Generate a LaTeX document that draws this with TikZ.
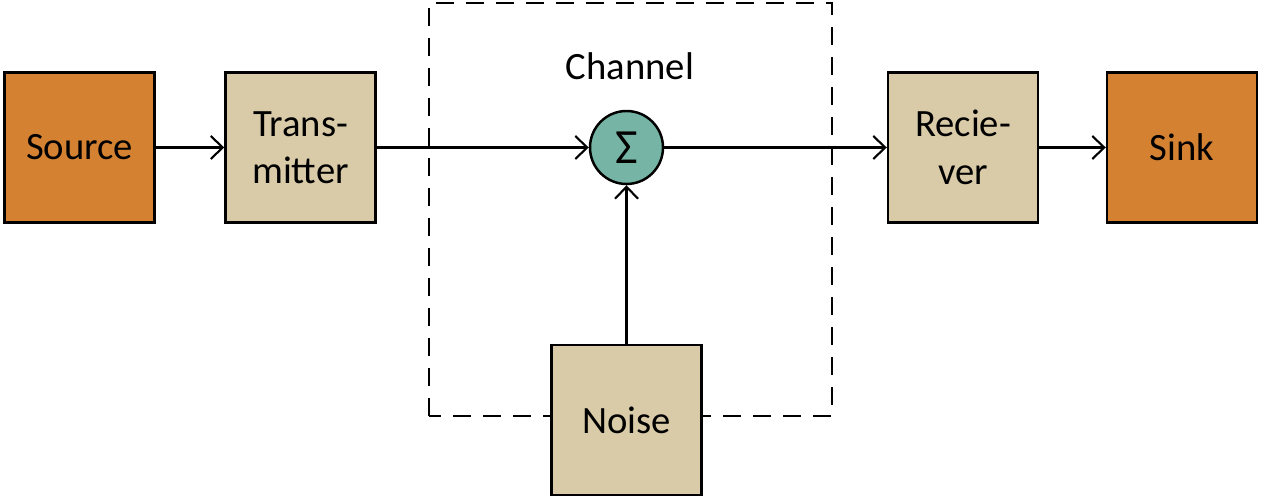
\documentclass[tikz,border=0pt]{standalone}
\usepackage{fontspec}
\setmainfont{Carlito}
\usepackage{tikz}
\usetikzlibrary{arrows.meta}

\definecolor{srccolor}{RGB}{212,130,50}
\definecolor{blockcolor}{RGB}{217,203,168}
\definecolor{sumcolor}{RGB}{118,181,165}

\tikzset{
  block/.style={draw=black,line width=1.4pt,fill=blockcolor,minimum width=3cm,minimum height=3cm,
    align=center,font=\fontsize{22}{27}\selectfont},
  endblock/.style={block,fill=srccolor},
  sumnode/.style={draw=black,line width=1.4pt,circle,fill=sumcolor,minimum size=1.46cm,inner sep=0pt,
    font=\fontsize{28}{30}\selectfont},
  signal/.style={line width=1.2pt,-{Straight Barb[length=2.4mm,width=4.6mm]}}
}

\begin{document}
\begin{tikzpicture}[scale=1]
  \useasboundingbox
    (0,0)
    rectangle
    (25.24,9.96);
  \draw[line width=1.6pt,dash pattern=on 0.36cm off 0.24cm]
    (8.58,1.64)
    rectangle
    (16.64,9.9);
  \node at (12.6,8.64) {\fontsize{22}{27}\selectfont Channel};
  \node[endblock] (source) at (1.59,7.01) {Source};
  \node[block] (transmitter) at (6.01,7.01) {Trans-\\mitter};
  \node[sumnode] (sum) at (12.53,7.01) {Σ};
  \node[block] (noise) at (12.53,1.56) {Noise};
  \node[block] (receiver) at (19.26,7.01) {Recie-\\ver};
  \node[endblock] (sink) at (23.64,7.01) {Sink};
  \draw[signal]
    (source)
    --
    (transmitter);
  \draw[signal]
    (transmitter)
    --
    (sum);
  \draw[signal]
    (noise)
    --
    (sum);
  \draw[signal]
    (sum)
    --
    (receiver);
  \draw[signal]
    (receiver)
    --
    (sink);
\end{tikzpicture}
\end{document}
